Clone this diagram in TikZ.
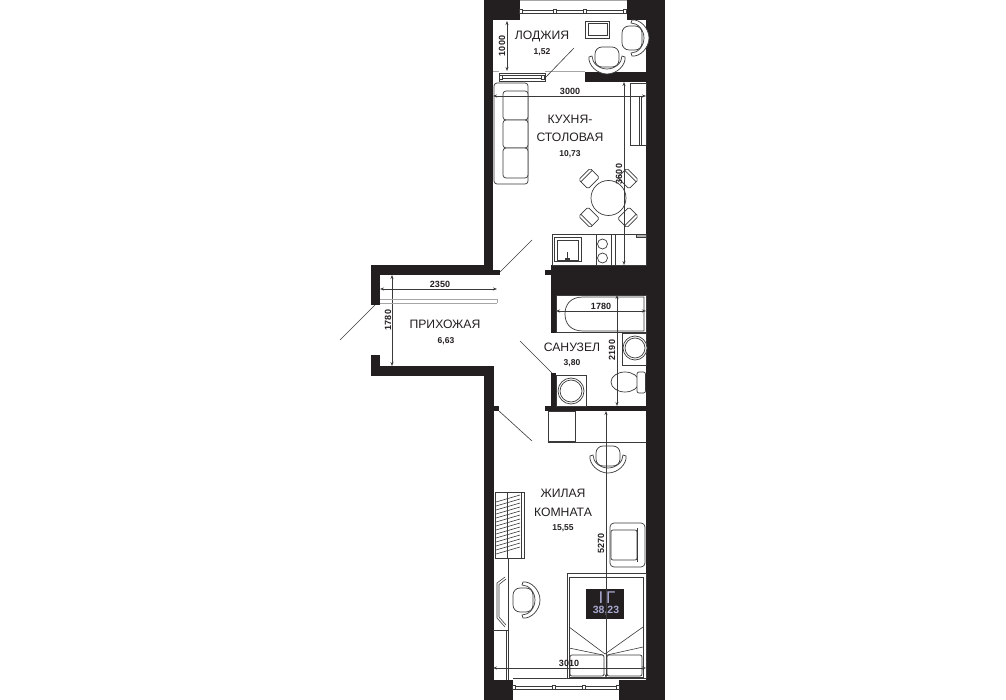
\documentclass[tikz,border=0pt]{standalone}
\usepackage{fontspec}
\setmainfont{Liberation Sans}
\usetikzlibrary{arrows.meta,calc}
\definecolor{wall}{HTML}{231F20}
\definecolor{ln}{HTML}{3A3A3A}
\definecolor{lav}{HTML}{A8A8D0}
\tikzset{
  wallfill/.style={fill=wall,draw=none},
  furn/.style={draw=ln,line width=0.7pt,fill=white},
  thin line/.style={draw=ln,line width=0.6pt},
  faint line/.style={draw=gray!70,line width=0.5pt},
  dim/.style={draw=ln,line width=0.6pt,{Stealth[length=4pt,width=3pt]}-{Stealth[length=4pt,width=3pt]}},
  title/.style={font=\fontsize{12.2}{14}\selectfont,text=wall,inner sep=0pt},
  area/.style={font=\fontsize{8.5}{10}\selectfont\bfseries,text=wall,inner sep=0pt},
  dimtext/.style={font=\fontsize{9}{10}\selectfont\bfseries,text=wall,inner sep=0pt},
  armchair/.pic={
    \draw[furn] (0,-18) .. controls (8,-19) and (17,-10) .. (17,0) .. controls (17,10) and (8,19) .. (0,18)
       -- (-1,15) .. controls (6,15) and (12,8) .. (12,0) .. controls (12,-8) and (6,-15) .. (-1,-15) -- cycle;
    \draw[furn,rounded corners=7pt] (-10,-12) rectangle (10,12);
  },
  dinechair/.pic={
    \draw[furn,rounded corners=1.5pt] (-6,-8) rectangle (7,8);
    \draw[thin line] (4,-8) -- (4,8);
  },
  winsq/.pic={\draw[furn,line width=0.6pt] (-1.6,-2) rectangle (1.6,2);}
}
\begin{document}
\begin{tikzpicture}[x=1pt,y=-1pt]
\useasboundingbox (0,0) rectangle (1006,700);
% walls
\fill[wallfill] (484,0) rectangle (520,20.5);
\fill[wallfill] (627,0) rectangle (665,20.5);
\fill[wallfill] (646,0) rectangle (665,700);
\fill[wallfill] (484,0) rectangle (493,275);
\fill[wallfill] (371,265) rectangle (493,275);
\fill[wallfill] (493,270) rectangle (500,275);
\fill[wallfill] (371,265) rectangle (380,305);
\fill[wallfill] (371,355) rectangle (380,376);
\fill[wallfill] (371,366) rectangle (494,376);
\fill[wallfill] (484,366) rectangle (494,700);
\fill[wallfill] (494,406) rectangle (499,411);
\fill[wallfill] (585,72) rectangle (646,82);
\fill[wallfill] (551,265) rectangle (646,295);
\fill[wallfill] (545,270) rectangle (551,275.5);
\fill[wallfill] (551,295) rectangle (556,333);
\fill[wallfill] (551,373) rectangle (556,406);
\fill[wallfill] (545,406) rectangle (646,411);
\fill[wallfill] (484,680) rectangle (513,700);
\fill[wallfill] (619,680) rectangle (646,700);
% top window
\draw[faint line] (520,0.5) -- (627,0.5);
\draw[thin line] (521,10) -- (625,10) (521,13) -- (625,13);
\foreach \x in {521,555,585,625} \pic at (\x,11.5) {winsq};
% loggia window
\draw[furn] (499,73) rectangle (545,81);
\draw[thin line] (501,75.5) -- (543,75.5) (501,78.5) -- (543,78.5);
\pic at (501,77) {winsq};
\pic at (543,77) {winsq};
\draw[faint line] (493,71) -- (499,71) (545,71) -- (585,71);
% bottom window
\draw[thin line] (513,678) -- (619,678);
\draw[thin line] (514,686) -- (618,686) (514,689) -- (618,689);
\foreach \x in {514,553.5,584,618} \pic at (\x,687.5) {winsq};
% loggia furniture
\draw[furn] (585,21) rectangle (609,38);
\draw[furn,line width=1pt] (588,23.5) rectangle (607,36);
\pic[rotate=0] at (632,38) {armchair};
\pic[rotate=-90] at (607,57) {armchair};
% doors
\draw[thin line] (545,78) -- (574,48);
\draw[thin line] (500,272) -- (532,240);
\draw[thin line] (375,305) -- (340,340);
\draw[thin line] (520,341) -- (552,373);
\draw[thin line] (499,411) -- (532,441);
% sofa
\draw[furn,rounded corners=3pt] (494,83) rectangle (528,184);
\draw[furn,rounded corners=3pt] (503,91) rectangle (528,120);
\draw[furn,rounded corners=3pt] (503,120) rectangle (528,148);
\draw[furn,rounded corners=3pt] (503,148) rectangle (528,178);
% fridge
\draw[furn] (630,83) rectangle (646,145);
\draw[furn] (639,96) rectangle (641,145);
% table
\foreach \a in {45,135,225,315} \pic[rotate=-\a] at ($(608.5,198)+(\a:27)$) {dinechair};
\draw[furn] (608.5,198) circle (17.5);
% kitchen
\draw[furn] (552,234) rectangle (646,265);
\draw[furn,line width=1pt] (554.5,238) rectangle (581,262);
\draw[thin line] (557,240.5) rectangle (578.5,260);
\fill[ln] (565,258) rectangle (570,262);
\draw[thin line] (567.5,252) -- (567.5,258);
\draw[furn] (596,234) rectangle (611,265);
\draw[furn] (602.5,244) circle (5);
\draw[furn] (602.5,258) circle (5);
\draw[thin line] (615,234) -- (615,265);
\draw[furn,fill=gray!60] (636,234.5) rectangle (646,237);
% bathroom
\draw[furn] (556,295) rectangle (646,332.5);
\draw[furn] (644,297) -- (644,331) -- (583,331) .. controls (570,331) and (565,323) .. (565,314) .. controls (565,305) and (570,297) .. (583,297) -- cycle;
\draw[furn] (622,333) rectangle (646,365);
\draw[furn] (635,348) circle (12);
\draw[furn] (635,348) circle (10);
\draw[furn] (625,382) ellipse (14 and 10);
\draw[furn,rounded corners=2pt] (637,372) rectangle (645.5,393);
\draw[furn] (556,375) rectangle (586,406);
\draw[furn] (571,391) circle (13);
\draw[furn] (571,391) circle (11);
% room cupboards
\draw[furn] (548,411) rectangle (575,442);
\fill[ln] (548,441) rectangle (575,442.5);
\draw[thin line] (575,442) -- (646,442);
% chairs
\pic[rotate=-90] at (608,456) {armchair};
\draw[furn,rounded corners=4pt] (610,523) rectangle (645,567);
\draw[furn,rounded corners=2pt] (611,530) rectangle (637,560);
\draw[furn] (637,528) -- (637,562);
\pic[rotate=0] at (523,600) {armchair};
% wardrobe
\draw[furn] (495,492) rectangle (524,558);
\draw[thin line] (521,492) -- (521,558);
\foreach \y in {499,503,...,551} \draw[thin line] (496,\y+3) -- (520,\y-4);
\draw[thin line] (507,492) -- (507,558);
% desk
\draw[thin line] (508,558) -- (508,680) (493,630) -- (508,630) (506,630) -- (506,680);
\draw[thin line] (505,577) -- (497,583) -- (497,618) -- (505,627);
\draw[thin line] (506,579) -- (499,584.5) -- (499,617) -- (506,625);
% bed
\draw[furn] (567,573) rectangle (646,678);
\draw[furn] (569,577) rectangle (643,677);
\draw[thin line] (569,627) -- (605,654) -- (643,627);
\draw[thin line] (569,648) -- (603,655) (643,647) -- (607,655);
\draw[furn,rounded corners=2pt] (570,655) rectangle (604,676);
\draw[furn,rounded corners=2pt] (607,655) rectangle (642,676);
\node[fill=wall,minimum width=38pt,minimum height=30pt,inner sep=0pt] (badge) at (605,604) {};
\node[text=lav,font=\fontsize{17}{18}\selectfont,inner sep=0pt] (flattype) at (607,597.5) {I\,Г};
\node[text=lav,font=\fontsize{10.5}{12}\selectfont\bfseries,inner sep=0pt] (flatarea) at (606,611) {38,23};
% dimensions
\draw[dim] (507,21) -- (507,71);
\draw[dim] (493,96) -- (646,96);
\draw[dim] (624,82) -- (624,265);
\draw[dim] (380,289) -- (497,289);
\draw[dim] (392,275) -- (392,366);
\draw[dim] (556,311) -- (646,311);
\draw[dim] (617,295) -- (617,406);
\draw[dim] (606,411) -- (606,678);
\draw[dim] (493,668) -- (646,668);
% hall closet
\draw[faint line] (380,299) -- (497,299) (380,303) -- (497,303) (497,299) -- (497,303);
% labels
\node[title] (loggia) at (542,36) {ЛОДЖИЯ};
\node[area] (loggiaA) at (542,52) {1,52};
\node[dimtext,rotate=90] (d1000) at (502,46) {1000};
\node[dimtext] (d3000) at (570,91) {3000};
\node[title] (k1) at (570,119) {КУХНЯ-};
\node[title] (k2) at (570,137) {СТОЛОВАЯ};
\node[area] (kA) at (570,154) {10,73};
\node[dimtext,rotate=90] (d3600) at (619,174) {3600};
\node[dimtext] (d2350) at (440,284) {2350};
\node[dimtext,rotate=90] (d1780) at (388,320) {1780};
\node[title] (hall) at (445,324) {ПРИХОЖАЯ};
\node[area] (hallA) at (446,341) {6,63};
\node[dimtext] (d1780b) at (601,306) {1780};
\node[dimtext,rotate=90] (d2190) at (612,350) {2190};
\node[title] (bath) at (572,347) {САНУЗЕЛ};
\node[area] (bathA) at (572,363) {3,80};
\node[title] (r1) at (563,493) {ЖИЛАЯ};
\node[title] (r2) at (563,512) {КОМНАТА};
\node[area] (rA) at (563,528) {15,55};
\node[dimtext,rotate=90] (d5270) at (601,543) {5270};
\node[dimtext] (d3010) at (569,663) {3010};
\end{tikzpicture}
\end{document}
